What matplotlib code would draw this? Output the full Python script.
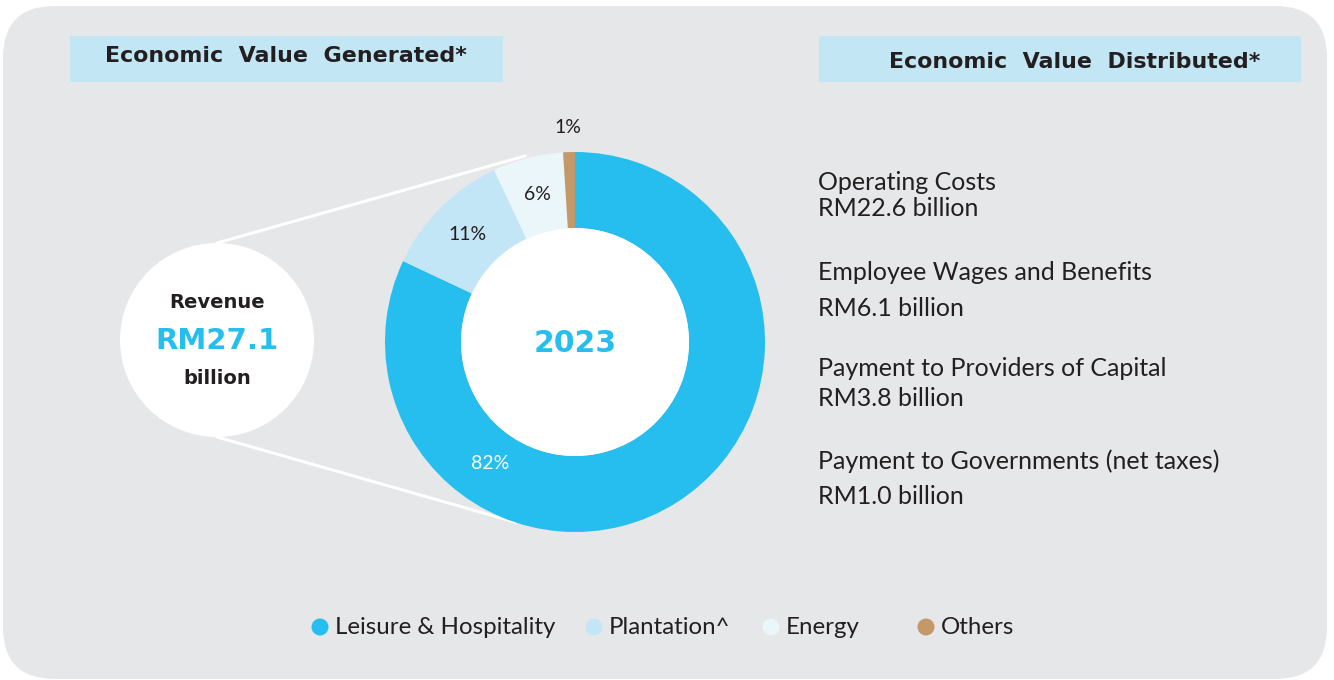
import matplotlib
matplotlib.use("Agg")
import numpy as np
import matplotlib.pyplot as plt
from matplotlib.patches import FancyBboxPatch, Rectangle, Circle

W, H = 1334, 680

# revenue split by segment (%)
segments = ["Leisure & Hospitality", "Plantation^", "Energy", "Others"]
shares = [82, 11, 6, 1]
seg_colors = ["#26BEEE", "#C3E6F6", "#EBF6FB", "#C4996A"]

# value distributed (RM billion)
dist_items = ["Operating Costs", "Employee Wages and Benefits",
              "Payment to Providers of Capital", "Payment to Governments (net taxes)"]
dist_values = [22.6, 6.1, 3.8, 1.0]

revenue = 27.1
year = "2023"

CYAN = "#26BEEE"
DARK = "#231F20"
BODY = "Lato"
HEAD = "DejaVu Sans"

fig = plt.figure(figsize=(W / 100, H / 100), dpi=100)
fig.patch.set_facecolor("white")
ax = fig.add_axes([0, 0, 1, 1])

# grey rounded panel
ax.add_patch(FancyBboxPatch((3, 1), 1324, 673,
                            boxstyle="round,pad=0,rounding_size=52",
                            fc="#E6E7E9", ec="none", zorder=0))

# header bars
ax.add_patch(Rectangle((70, 598), 433, 46, fc="#C3E6F5", ec="none", zorder=1))
ax.add_patch(Rectangle((819, 598), 482, 46, fc="#C3E6F5", ec="none", zorder=1))
ax.text(286, 624, "Economic  Value  Generated*", ha="center", va="center",
        fontsize=15.9, fontweight="bold", family=HEAD, color=DARK)
ax.text(1075, 618, "Economic  Value  Distributed*", ha="center", va="center",
        fontsize=15.9, fontweight="bold", family=HEAD, color=DARK)

# donut
cx, cy, R = 575, 338, 190
wedges, _ = ax.pie(shares, colors=seg_colors, startangle=90, counterclock=False,
                   center=(cx, cy), radius=R,
                   wedgeprops=dict(width=R - 114, edgecolor="none"))
for w in wedges:
    w.set_zorder(3)
ax.add_patch(Circle((cx, cy), 114, fc="white", ec="none", zorder=3))
ax.text(cx, cy - 2, year, ha="center", va="center", fontsize=21.5,
        fontweight="bold", family=HEAD, color=CYAN, zorder=4)

# percentage labels at the middle of each slice (82% sits lower left)
cum = np.cumsum([0] + shares)
for i, (v, w) in enumerate(zip(shares, wedges)):
    mid = 90 - 3.6 * (cum[i] + cum[i + 1]) / 2
    r = 152
    col = DARK
    if i == 0:
        mid, r, col = 235, 148, "white"
    elif i == 3:
        r = 215
    x = cx + r * np.cos(np.radians(mid))
    y = cy + r * np.sin(np.radians(mid))
    ax.text(x, y, f"{v}%", ha="center", va="center", fontsize=14,
            family=BODY, color=col, zorder=5)

# revenue bubble and connector lines
bx, by, br = 217, 340, 97
ax.plot([bx, 525], [by + br, H - 156], color="white", lw=2.2, zorder=2)
ax.plot([bx, 515], [by - br, H - 522], color="white", lw=2.2, zorder=2)
ax.add_patch(Circle((bx, by), br, fc="white", ec="none", zorder=3))
ax.text(bx, 377, "Revenue", ha="center", va="center", fontsize=14,
        fontweight="bold", family=HEAD, color=DARK, zorder=4)
ax.text(bx, 339, f"RM{revenue}", ha="center", va="center", fontsize=21,
        fontweight="bold", family=HEAD, color=CYAN, zorder=4)
ax.text(bx, 302, "billion", ha="center", va="center", fontsize=14,
        fontweight="bold", family=HEAD, color=DARK, zorder=4)

# economic value distributed list
name_y = [498, 407, 312, 219]
val_y = [471, 372, 282, 184]
for name, val, ny, vy in zip(dist_items, dist_values, name_y, val_y):
    ax.text(818, ny, name, ha="left", va="center", fontsize=18,
            family=BODY, color=DARK)
    ax.text(818, vy, f"RM{val} billion", ha="left", va="center", fontsize=18,
            family=BODY, color=DARK)

# legend row
leg_x = [320, 594, 771, 926]
for lx, name, c in zip(leg_x, segments, seg_colors):
    ax.scatter([lx], [53], s=150, color=c, edgecolors="none", zorder=4)
    ax.text(lx + 15, 53, name, ha="left", va="center", fontsize=17.3,
            family=BODY, color=DARK)

ax.set_xlim(0, W)
ax.set_ylim(0, H)
ax.set_aspect("auto")
ax.axis("off")

fig.savefig("out.png", dpi=100, facecolor=fig.get_facecolor())
